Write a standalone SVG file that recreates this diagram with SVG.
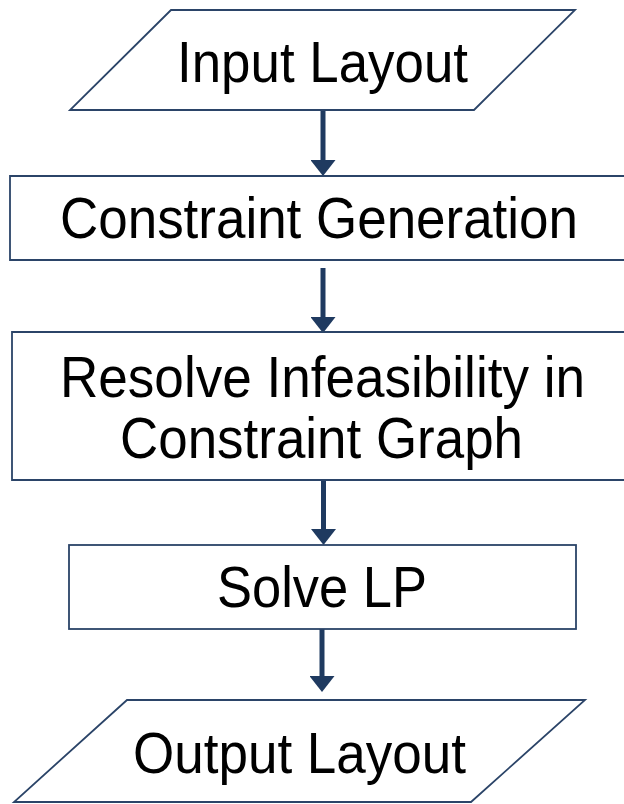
<svg xmlns="http://www.w3.org/2000/svg" width="624" height="804" viewBox="0 0 624 804">
  <style>
    .shape { fill: #ffffff; stroke: #2b4468; stroke-width: 1.8; }
    .label { font-family: "Liberation Sans", Arial, sans-serif; font-size: 58px; fill: #000000; text-anchor: middle; }
    .flow { stroke: #1f3a60; stroke-width: 5; fill: none; marker-end: url(#head); }
  </style>
  <defs>
    <marker id="head" markerUnits="userSpaceOnUse" viewBox="0 -12.5 16 25" refX="0" refY="0" markerWidth="16" markerHeight="25" orient="auto">
      <path d="M0,-12.5 L16,0 L0,12.5 Z" fill="#1f3a60"/>
    </marker>
  </defs>

  <rect width="624" height="804" fill="#ffffff"/>

  <g id="connectors">
    <line class="flow" x1="323" y1="111" x2="323" y2="160"/>
    <line class="flow" x1="323" y1="268" x2="323" y2="317"/>
    <line class="flow" x1="323.5" y1="480" x2="323.5" y2="529"/>
    <line class="flow" x1="322" y1="629" x2="322" y2="676"/>
  </g>

  <g id="input-layout">
    <polygon class="shape" points="171,10 575,10 474,110 70,110"/>
    <text class="label" x="322.5" y="82" textLength="291" lengthAdjust="spacingAndGlyphs">Input Layout</text>
  </g>

  <!-- the two wide boxes run off the right edge of the page -->
  <g id="constraint-generation">
    <path class="shape" d="M624,176 H10 V260 H624"/>
    <text class="label" x="319" y="238" textLength="518" lengthAdjust="spacingAndGlyphs">Constraint Generation</text>
  </g>

  <g id="resolve-infeasibility">
    <path class="shape" d="M624,332 H12 V480 H624"/>
    <text class="label" x="322.5" y="397" textLength="525" lengthAdjust="spacingAndGlyphs">Resolve Infeasibility in</text>
    <text class="label" x="321.5" y="458" textLength="403" lengthAdjust="spacingAndGlyphs">Constraint Graph</text>
  </g>

  <g id="solve-lp">
    <rect class="shape" x="69" y="545" width="507" height="84"/>
    <text class="label" x="322" y="607" textLength="210" lengthAdjust="spacingAndGlyphs">Solve LP</text>
  </g>

  <g id="output-layout">
    <polygon class="shape" points="127,700 585,700 471,802 14,802"/>
    <text class="label" x="299.5" y="773" textLength="333" lengthAdjust="spacingAndGlyphs">Output Layout</text>
  </g>
</svg>
